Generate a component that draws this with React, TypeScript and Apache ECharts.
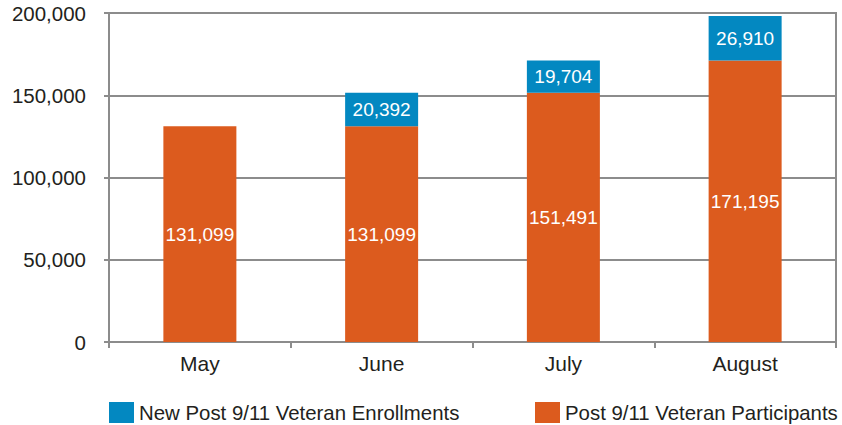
import React, { useEffect, useRef } from "react";
import * as echarts from "echarts";

const categories = ["May", "June", "July", "August"];
const participants = [131099, 131099, 151491, 171195];
const enrollments: (number | null)[] = [null, 20392, 19704, 26910];
const yTicks = { min: 0, max: 200000, interval: 50000 };

const ORANGE = "#DC5B1E";
const BLUE = "#0388C1";
const TEXT = "#231F20";
const LINE = "#8C8C8C";
const FONT = "'Liberation Sans', Arial, Helvetica, sans-serif";

const fmt = (v: number) => v.toLocaleString("en-US");

export default function App() {
  const ref = useRef<HTMLDivElement>(null);
  useEffect(() => {
    if (!ref.current) return;
    document.body.style.margin = "0";
    const chart = echarts.init(ref.current, undefined, { renderer: "svg" });
    const legendText = { color: TEXT, fontSize: 20.4, lineHeight: 21, fontFamily: FONT };
    chart.setOption({
      animation: false,
      textStyle: { fontFamily: FONT },
      grid: {
        left: 109,
        right: 6,
        top: 13,
        bottom: 83,
        show: true,
        borderColor: LINE,
        borderWidth: 2,
        backgroundColor: "transparent",
      },
      legend: [
        {
          left: 109,
          top: 402,
          padding: 0,
          itemWidth: 25,
          itemHeight: 21,
          itemGap: 8,
          icon: "rect",
          data: ["New Post 9/11 Veteran Enrollments"],
          textStyle: legendText,
        },
        {
          left: 535,
          top: 402,
          padding: 0,
          itemWidth: 25,
          itemHeight: 21,
          itemGap: 8,
          icon: "rect",
          data: ["Post 9/11 Veteran Participants"],
          textStyle: legendText,
        },
      ],
      xAxis: {
        type: "category",
        data: categories,
        axisLine: { lineStyle: { color: LINE, width: 2 } },
        axisTick: { show: true, length: 6, lineStyle: { color: LINE, width: 2 } },
        axisLabel: { color: TEXT, fontSize: 21, fontFamily: FONT, margin: 11 },
      },
      yAxis: {
        type: "value",
        min: yTicks.min,
        max: yTicks.max,
        interval: yTicks.interval,
        axisLine: { show: true, lineStyle: { color: LINE, width: 2 } },
        axisTick: { show: true, length: 5, lineStyle: { color: LINE, width: 2 } },
        splitLine: { show: true, lineStyle: { color: LINE, width: 2 } },
        axisLabel: {
          color: TEXT,
          fontSize: 20.5,
          fontFamily: FONT,
          margin: 23,
          formatter: (v: number) => fmt(v),
        },
      },
      series: [
        {
          name: "Post 9/11 Veteran Participants",
          type: "bar",
          stack: "total",
          data: participants,
          barWidth: 73,
          itemStyle: { color: ORANGE },
          label: {
            show: true,
            position: "inside",
            color: "#FFFFFF",
            fontSize: 19,
            fontFamily: FONT,
            formatter: (p: any) => fmt(p.value),
          },
        },
        {
          name: "New Post 9/11 Veteran Enrollments",
          type: "bar",
          stack: "total",
          data: enrollments,
          barWidth: 73,
          itemStyle: { color: BLUE },
          label: {
            show: true,
            position: "inside",
            color: "#FFFFFF",
            fontSize: 19,
            fontFamily: FONT,
            formatter: (p: any) => (p.value == null ? "" : fmt(p.value)),
          },
        },
      ],
    });
    return () => chart.dispose();
  }, []);
  return <div ref={ref} style={{ width: 842, height: 425 }} />;
}
